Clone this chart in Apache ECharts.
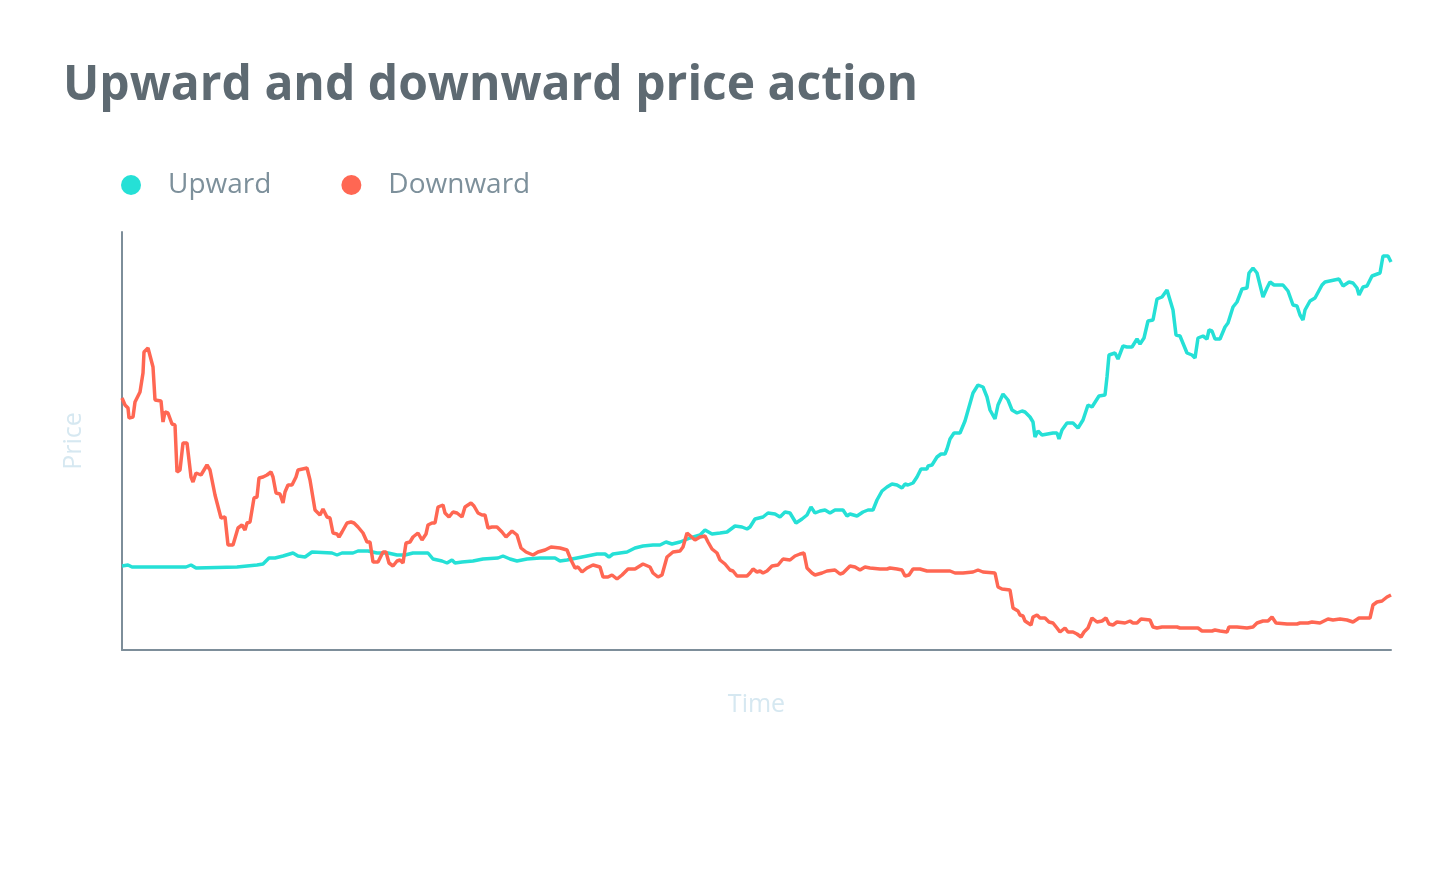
<!DOCTYPE html>
<html>
<head>
<meta charset="utf-8">
<script src="https://cdn.jsdelivr.net/npm/echarts@6/dist/echarts.min.js"></script>
<style>
html,body{margin:0;padding:0;background:#fff;}
#chart{width:1454px;height:874px;}
</style>
</head>
<body>
<div id="chart"></div>
<script>
// Time (x) and price (y) readings for each series
const upwardTime = [0,6,10,58,60,64,69,74,115,125,135,141,147,153,161,171,176,183,190,210,215,220,231,236,246,255,266,275,283,291,306,311,320,325,330,333,340,351,361,376,381,388,395,405,418,433,438,445,455,465,475,483,487,491,505,513,521,531,538,544,550,558,568,578,583,590,598,605,613,620,625,628,633,641,646,653,658,663,668,674,680,685,689,693,698,703,708,713,721,725,728,735,741,746,751,755,760,765,770,775,780,783,786,791,795,799,805,806,810,815,819,823,825,828,832,838,843,847,851,856,861,865,868,873,876,881,886,890,895,900,903,908,911,913,916,920,931,935,937,940,945,951,956,961,966,970,977,983,985,987,993,996,1001,1005,1010,1015,1018,1022,1026,1031,1035,1040,1045,1046,1051,1054,1058,1065,1070,1073,1076,1081,1085,1087,1090,1093,1098,1103,1106,1111,1115,1120,1125,1127,1131,1135,1138,1141,1145,1148,1152,1161,1166,1171,1175,1178,1181,1183,1188,1193,1200,1203,1217,1221,1227,1231,1235,1237,1241,1245,1250,1258,1261,1266,1269];
const upwardPrice = [84,85,83,83,85,83,85,82,83,84,85,86,92,92,94,97,94,93,98,97,95,97,97,99,99,97,97,95,95,97,97,91,89,87,90,87,88,89,91,92,94,91,89,91,92,92,89,90,92,94,96,96,93,96,98,102,104,105,105,108,106,108,112,115,120,116,117,118,124,123,121,123,131,133,137,136,133,138,137,127,131,135,143,137,139,140,137,140,140,134,136,134,138,140,140,150,159,163,166,165,162,166,165,167,173,181,181,184,185,193,196,196,201,211,217,217,229,243,257,265,263,253,240,231,245,256,250,240,237,239,238,233,228,213,219,215,217,217,211,220,227,227,222,230,245,243,254,255,273,295,297,291,304,303,303,311,306,312,329,330,351,353,360,358,340,315,314,297,295,292,312,314,311,320,319,311,311,323,327,343,348,361,362,377,382,377,365,353,362,368,365,365,359,345,344,335,330,340,349,352,365,368,371,364,368,367,362,355,363,364,374,377,394,394,388];

const downwardTime = [0,3,6,7,11,13,18,21,22,26,28,31,33,35,39,41,43,46,50,53,55,58,61,65,69,71,74,79,85,88,93,95,99,103,106,111,116,120,123,125,128,132,135,137,141,145,149,151,154,158,161,163,166,170,174,176,185,188,193,198,201,205,208,211,215,217,220,225,229,232,236,241,245,248,251,256,261,264,267,271,275,278,281,284,288,291,296,300,304,306,310,313,316,321,323,327,331,335,340,343,349,352,356,360,363,366,370,375,380,384,390,395,399,404,411,416,423,429,431,438,445,449,453,456,460,465,471,478,481,486,490,495,500,506,513,521,528,531,536,540,545,551,558,561,565,567,573,578,583,586,590,595,598,603,608,611,615,625,628,631,635,638,641,645,650,656,661,668,673,678,682,685,690,693,700,705,713,718,721,728,733,738,743,748,758,765,768,775,780,783,787,791,798,805,828,833,841,851,856,861,873,876,880,888,891,896,898,901,903,906,909,911,915,918,923,927,931,935,938,943,946,951,955,959,962,966,970,975,980,984,987,991,995,1003,1008,1011,1015,1019,1028,1031,1035,1040,1045,1055,1058,1065,1076,1080,1090,1093,1098,1105,1107,1115,1125,1131,1135,1141,1146,1150,1154,1165,1175,1178,1186,1190,1198,1206,1211,1218,1225,1231,1237,1248,1251,1255,1260,1265,1269];
const downwardPrice = [252,245,242,232,233,248,258,277,298,302,300,283,250,248,249,228,238,237,226,225,178,180,207,207,173,168,177,175,185,180,155,153,132,133,105,105,122,125,120,127,128,152,153,172,173,175,178,173,157,156,147,158,165,165,173,180,182,170,140,135,141,133,132,117,116,113,118,127,128,127,123,117,108,108,88,88,98,98,87,84,89,90,87,107,108,113,117,110,116,125,127,127,143,145,137,133,138,137,133,143,147,144,137,135,135,122,123,123,118,113,119,115,102,98,95,98,100,103,101,102,100,90,82,83,78,82,85,83,73,73,75,71,75,81,81,86,83,77,73,75,93,98,99,103,117,117,110,113,114,108,101,97,90,86,80,79,74,74,77,81,78,79,77,79,84,85,91,90,94,96,97,82,77,75,77,79,80,76,77,84,83,80,83,82,81,81,82,81,80,74,75,81,81,79,79,77,77,78,80,78,77,63,61,60,42,39,35,34,29,27,25,33,35,32,32,28,27,22,18,22,18,18,16,13,18,22,32,28,29,32,26,25,28,27,29,27,27,31,30,23,22,23,23,23,22,22,22,19,19,20,19,18,23,23,22,23,27,29,29,33,27,26,26,27,27,28,27,31,30,31,30,28,32,32,45,48,49,53,55];

const seriesNames = ['Upward', 'Downward'];
const seriesColors = ['#25e0d6', '#ff6753'];

function pairs(t, v) { return t.map((x, i) => [x, v[i]]); }

const chart = echarts.init(document.getElementById('chart'), null, {renderer: 'canvas'});
const font = '"Open Sans", "Noto Sans", sans-serif';
chart.setOption({
  animation: false,
  backgroundColor: '#ffffff',
  title: {
    text: 'Upward and downward price action',
    left: 58,
    top: 57,
    textStyle: {fontFamily: font, fontSize: 48, fontWeight: 'bold', color: '#5e6a72'}
  },
  legend: {
    left: 116,
    top: 166,
    itemWidth: 20,
    itemHeight: 20,
    itemGap: 70,
    icon: 'circle',
    data: seriesNames,
    textStyle: {fontFamily: font, fontSize: 28, color: '#7d909b', padding: [0, 0, 0, 22]}
  },
  grid: {left: 122, right: 63, top: 232, bottom: 224, containLabel: false},
  xAxis: {
    type: 'value',
    min: 0,
    max: 1269,
    name: 'Time',
    nameLocation: 'middle',
    nameGap: 42,
    nameTextStyle: {fontFamily: font, fontSize: 25, color: '#d6e8f1'},
    axisLine: {show: true, lineStyle: {color: '#7d8e9a', width: 2}},
    axisTick: {show: false},
    axisLabel: {show: false},
    splitLine: {show: false}
  },
  yAxis: {
    type: 'value',
    min: 0,
    max: 418,
    name: 'Price',
    nameLocation: 'middle',
    nameGap: 36,
    nameTextStyle: {fontFamily: font, fontSize: 25, color: '#d6e8f1'},
    axisLine: {show: true, lineStyle: {color: '#7d8e9a', width: 2}},
    axisTick: {show: false},
    axisLabel: {show: false},
    splitLine: {show: false}
  },
  series: [
    {name: seriesNames[0], type: 'line', data: pairs(upwardTime, upwardPrice), showSymbol: false, symbol: 'circle',
     itemStyle: {color: seriesColors[0]}, lineStyle: {color: seriesColors[0], width: 3.5}},
    {name: seriesNames[1], type: 'line', data: pairs(downwardTime, downwardPrice), showSymbol: false, symbol: 'circle',
     itemStyle: {color: seriesColors[1]}, lineStyle: {color: seriesColors[1], width: 3.5}}
  ]
});
</script>
</body>
</html>
